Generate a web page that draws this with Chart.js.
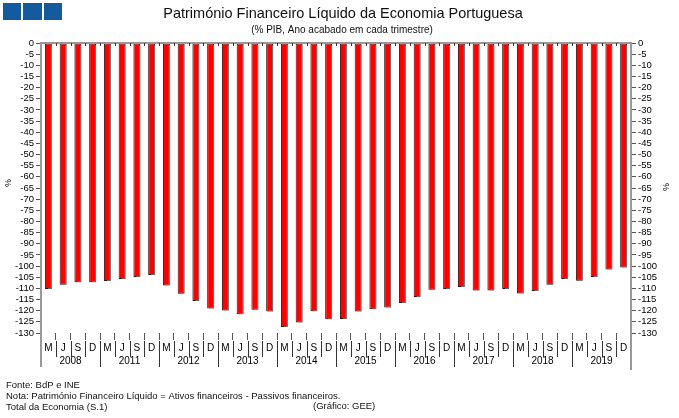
<!DOCTYPE html>
<html>
<head>
<meta charset="utf-8">
<script src="https://cdn.jsdelivr.net/npm/chart.js@4.4.0/dist/chart.umd.min.js"></script>
<style>
html, body { margin: 0; padding: 0; background: #fff; overflow: hidden; }
</style>
</head>
<body>
<canvas id="chart" width="679" height="418"></canvas>
<script>
const years = ["2008", "2011", "2012", "2013", "2014", "2015", "2016", "2017", "2018", "2019"];
const quarters = ["M", "J", "S", "D"];
const values = [
    -110.3, -108.4, -107.2, -107.2,
    -106.7, -105.8, -104.9, -104.0,
    -108.7, -112.4, -115.6, -119.0,
    -119.9, -121.6, -119.6, -120.4,
    -127.3, -125.3, -120.2, -123.8,
    -123.7, -120.4, -119.3, -118.6,
    -116.6, -113.9, -110.6, -110.3,
    -109.4, -110.9, -110.9, -110.3,
    -112.3, -111.2, -108.4, -105.8,
    -106.6, -104.9, -101.5, -100.6
];

const labels = [];
years.forEach(() => quarters.forEach(q => labels.push(q)));

const font = "Arial, 'Liberation Sans', sans-serif";

// shadow under the bars
const barShadow = {
    id: "barShadow",
    beforeDatasetsDraw(chart) {
        const ctx = chart.ctx;
        ctx.save();
        ctx.shadowColor = "rgba(140,140,140,0.7)";
        ctx.shadowOffsetX = 2;
        ctx.shadowOffsetY = 1;
        ctx.shadowBlur = 0;
    },
    afterDatasetsDraw(chart) {
        chart.ctx.restore();
    }
};

// frame lines, year labels, titles, footer
const decor = {
    id: "decor",
    afterDraw(chart) {
        const ctx = chart.ctx;
        const a = chart.chartArea;
        const step = (a.right - a.left) / values.length;
        ctx.save();

        // top zero line
        ctx.strokeStyle = "#999";
        ctx.lineWidth = 2;
        ctx.beginPath();
        ctx.moveTo(a.left, a.top);
        ctx.lineTo(a.right, a.top);
        ctx.stroke();

        ctx.strokeStyle = "#333";
        ctx.lineWidth = 1;
        for (let i = 1; i < values.length; i++) {
            const px = Math.round(a.left + i * step) + 0.5;
            ctx.beginPath();
            ctx.moveTo(px, a.top);
            ctx.lineTo(px, a.top + 3);
            ctx.stroke();
            // separators under the quarter labels
            ctx.beginPath();
            ctx.moveTo(px, a.bottom + 8);
            ctx.lineTo(px, i % 4 === 0 ? 367 : 357);
            ctx.stroke();
        }

        // axis lines going down past the plot
        ctx.strokeStyle = "#999";
        ctx.lineWidth = 2;
        ctx.beginPath();
        ctx.moveTo(a.left, a.bottom);
        ctx.lineTo(a.left, 367);
        ctx.moveTo(a.right, a.bottom);
        ctx.lineTo(a.right, 370);
        ctx.stroke();

        ctx.fillStyle = "#000";
        ctx.textAlign = "center";
        ctx.textBaseline = "middle";
        ctx.font = "10px " + font;
        years.forEach((y, k) => {
            ctx.fillText(y, a.left + (k * 4 + 2) * step, 361);
        });

        // % axis titles
        ctx.font = "9px " + font;
        ctx.save();
        ctx.translate(9, 183);
        ctx.rotate(-Math.PI / 2);
        ctx.fillText("%", 0, 0);
        ctx.restore();
        ctx.save();
        ctx.translate(667, 187);
        ctx.rotate(-Math.PI / 2);
        ctx.fillText("%", 0, 0);
        ctx.restore();

        // logo squares
        ctx.fillStyle = "#135a9f";
        ctx.fillRect(3, 3, 18, 17);
        ctx.fillRect(23, 3, 19, 17);
        ctx.fillRect(44, 3, 18, 17);

        // titles
        ctx.fillStyle = "#111";
        ctx.font = "14.5px " + font;
        ctx.fillText("Património Financeiro Líquido da Economia Portuguesa", 343, 14);
        ctx.font = "10px " + font;
        ctx.fillText("(% PIB, Ano acabado em cada trimestre)", 342, 30);

        // footer
        ctx.textAlign = "left";
        ctx.font = "9.5px " + font;
        ctx.fillText("Fonte: BdP e INE", 6, 385);
        ctx.fillText("Nota: Património Financeiro Líquido = Ativos financeiros - Passivos financeiros.", 6, 396);
        ctx.fillText("Total da Economia (S.1)", 6, 407);
        ctx.fillText("(Gráfico: GEE)", 313, 406);

        ctx.restore();
    }
};

const yAxis = (pos, w) => ({
    position: pos,
    min: -130,
    max: 0,
    ticks: {
        stepSize: 5, autoSkip: false, maxTicksLimit: 100,
        color: "#000", padding: 2, font: { family: font, size: 9.5 }
    },
    grid: { drawOnChartArea: false, tickLength: 5, color: "#555" },
    border: { color: "#999", width: 2 },
    afterFit(s) { s.width = w; }
});

new Chart(document.getElementById("chart"), {
    type: "bar",
    data: {
        labels: labels,
        datasets: [{
            data: values,
            backgroundColor: "#ff0000",
            borderColor: "#3a1010",
            borderWidth: 1,
            borderSkipped: false,
            barPercentage: 0.47,
            categoryPercentage: 1
        }]
    },
    options: {
        responsive: false,
        animation: false,
        devicePixelRatio: 1,
        layout: { padding: { top: 43, left: 0, right: 0, bottom: 0 } },
        plugins: {
            legend: { display: false },
            tooltip: { enabled: false }
        },
        scales: {
            x: {
                grid: { drawOnChartArea: false, tickLength: 7, color: "#555", offset: true },
                border: { display: false },
                ticks: { color: "#000", padding: 2, maxRotation: 0, autoSkip: false, font: { family: font, size: 10 } },
                afterFit(s) { s.height = 85; }
            },
            y: yAxis("left", 41),
            y2: yAxis("right", 48)
        }
    },
    plugins: [barShadow, decor]
});
</script>
</body>
</html>
